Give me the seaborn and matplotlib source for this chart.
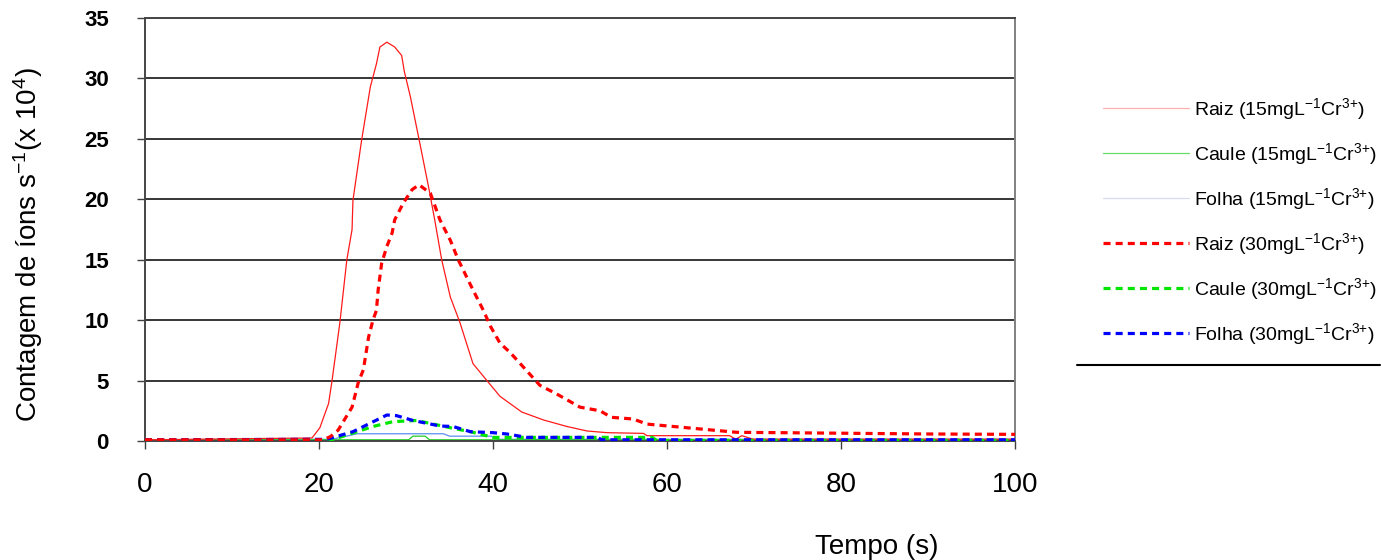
import matplotlib
matplotlib.use("Agg")
import matplotlib.pyplot as plt
from matplotlib.lines import Line2D
import seaborn as sns
import pandas as pd

# ---------------- data ----------------
raiz15_t = [0, 19.2, 20.1, 21.1, 21.5, 22.4, 23.2, 23.8, 23.9, 24.9, 25.9, 26.6, 27.0, 27.8,
            28.7, 29.5, 29.8, 30.5, 31.6, 32.6, 33.3, 34.1, 35.1, 36.2, 37.7, 39.3, 40.8, 43.3,
            45.8, 48.5, 50.8, 53.1, 57.3, 57.7, 67.2, 67.9, 68.6, 69.9, 100]
raiz15_v = [0.1, 0.25, 1.1, 3.1, 5.0, 9.8, 15.0, 17.5, 19.9, 24.9, 29.3, 31.2, 32.6, 33.0,
            32.6, 31.9, 30.6, 28.5, 24.6, 21.0, 18.3, 15.0, 11.9, 9.8, 6.4, 5.0, 3.7, 2.4,
            1.74, 1.2, 0.83, 0.69, 0.63, 0.44, 0.44, 0.15, 0.44, 0.15, 0.15]

caule15_t = [0, 30.3, 30.8, 32.2, 32.7, 100]
caule15_v = [0.1, 0.1, 0.4, 0.4, 0.1, 0.1]

folha15_t = [0, 21.5, 24.4, 34.3, 35.0, 39.8, 40.5, 100]
folha15_v = [0.1, 0.14, 0.6, 0.6, 0.4, 0.4, 0.14, 0.14]

raiz30_t = [0, 20.5, 21.3, 22.2, 23.8, 24.5, 25.1, 25.7, 26.2, 26.6, 26.8, 27.2, 27.8, 28.4,
            28.7, 29.7, 30.7, 31.5, 32.8, 33.9, 35.1, 36.0, 37.7, 38.9, 39.7, 40.8, 42.0,
            45.4, 47.3, 50.0, 52.3, 53.6, 56.1, 57.7, 63.0, 68.0, 90.2, 100]
raiz30_v = [0.1, 0.1, 0.36, 0.9, 2.8, 4.8, 5.9, 8.6, 10.0, 10.8, 12.5, 14.7, 16.1, 17.2,
            18.3, 19.7, 20.8, 21.2, 20.5, 18.3, 16.6, 15.0, 12.5, 10.8, 9.5, 8.1, 7.3,
            4.6, 3.9, 2.8, 2.5, 1.96, 1.82, 1.4, 1.05, 0.72, 0.58, 0.55]

caule30_t = [0, 21.5, 26.2, 28.5, 31.2, 35.4, 37.4, 40.0, 58.3, 58.8, 100]
caule30_v = [0.05, 0.1, 1.2, 1.6, 1.7, 1.05, 0.77, 0.3, 0.3, 0.05, 0.05]

folha30_t = [0, 20.9, 23.9, 27.8, 28.9, 30.8, 33.9, 35.4, 37.4, 40.0, 41.6, 43.9, 52.0, 52.5, 100]
folha30_v = [0.1, 0.14, 0.77, 2.15, 2.1, 1.7, 1.24, 1.2, 0.77, 0.69, 0.58, 0.3, 0.3, 0.1, 0.1]

labels = [r"Raiz (15mgL$^{-1}$Cr$^{3{+}}$)",
          r"Caule (15mgL$^{-1}$Cr$^{3{+}}$)",
          r"Folha (15mgL$^{-1}$Cr$^{3{+}}$)",
          r"Raiz (30mgL$^{-1}$Cr$^{3{+}}$)",
          r"Caule (30mgL$^{-1}$Cr$^{3{+}}$)",
          r"Folha (30mgL$^{-1}$Cr$^{3{+}}$)"]
y_ticks = [0, 5, 10, 15, 20, 25, 30, 35]
x_ticks = [0, 20, 40, 60, 80, 100]
x_label = "Tempo (s)"
y_label = r"Contagem de íons s$^{-1}$(x 10$^{4}$)"

# ---------------- style ----------------
sns.set_theme(style="white")
plt.rcParams["font.family"] = ["Liberation Sans", "DejaVu Sans"]
plt.rcParams["mathtext.fontset"] = "custom"
plt.rcParams["mathtext.rm"] = "Liberation Sans"
plt.rcParams["mathtext.it"] = "Liberation Sans:italic"
plt.rcParams["mathtext.bf"] = "Liberation Sans:bold"
plt.rcParams["mathtext.default"] = "regular"
for k in ["text.color", "axes.labelcolor", "xtick.color", "ytick.color"]:
    plt.rcParams[k] = "black"

fig = plt.figure(figsize=(13.81, 5.60), dpi=100)
ax = fig.add_axes([145 / 1381, 1 - 441 / 560, 870 / 1381, 423 / 560])

thin = 0.9
thick = 2.3
dash = (0, (2.2, 1.6))

series = [
    (folha15_t, folha15_v, "#5b8ff0", thin, "-", 2),
    (caule15_t, caule15_v, "#22cc22", thin, "-", 2),
    (raiz15_t, raiz15_v, "#ff1a1a", thin, "-", 3),
    (caule30_t, caule30_v, "#00e600", thick, dash, 4),
    (folha30_t, folha30_v, "#0000ff", thick, dash, 5),
    (raiz30_t, raiz30_v, "#ff0000", thick, dash, 6),
]
for t, v, c, lw, ls, z in series:
    df = pd.DataFrame({"t": t, "v": v})
    sns.lineplot(data=df, x="t", y="v", ax=ax, color=c, linewidth=lw,
                 linestyle=ls, estimator=None, sort=False, zorder=z)

ax.set_xlim(0, 100)
ax.set_ylim(0, 35)
ax.set_xticks(x_ticks)
ax.set_yticks(y_ticks)
ax.set_yticklabels([str(v) for v in y_ticks], fontsize=16, fontweight="bold")
ax.set_xticklabels([str(v) for v in x_ticks], fontsize=20)
ax.tick_params(axis="y", direction="out", length=6, width=1, color="#404040",
               pad=20, left=True)
ax.tick_params(axis="x", direction="out", length=6, width=1, color="#404040",
               pad=16, bottom=True)
ax.yaxis.grid(True, color="black", linewidth=1.1)
ax.xaxis.grid(False)
ax.set_axisbelow(True)

for side in ["left", "bottom", "top"]:
    ax.spines[side].set_color("#454545")
    ax.spines[side].set_linewidth(1.4)
ax.spines["right"].set_color("#808080")
ax.spines["right"].set_linewidth(1.4)

ax.set_xlabel(x_label, fontsize=20)
ax.xaxis.set_label_coords((877 - 145) / 870, (441 - 547) / 423)
ax.xaxis.label.set_va("center")
ax.set_ylabel(y_label, fontsize=20)
ax.yaxis.set_label_coords((28 - 145) / 870, (441 - 245) / 423)
ax.yaxis.label.set_va("center")

# legend
leg_colors = ["#ffb0b0", "#66dd66", "#d8dcf0", "#ff0000", "#00e600", "#0000ff"]
leg_lw = [thin, thin, thin, thick, thick, thick]
leg_ls = ["-", "-", "-", dash, dash, dash]
handles = [Line2D([0], [0], color=c, linewidth=w, linestyle=s)
           for c, w, s in zip(leg_colors, leg_lw, leg_ls)]
fig.legend(handles, labels, loc="upper left",
           bbox_to_anchor=(1103 / 1381, 1 - 96 / 560),
           frameon=False, fontsize=14, handlelength=4.4, handletextpad=0.3,
           labelspacing=0.98, borderpad=0, borderaxespad=0)

fig.add_artist(Line2D([1077 / 1381, 1380 / 1381], [1 - 365 / 560, 1 - 365 / 560],
                      transform=fig.transFigure, color="black", linewidth=1.5))

fig.savefig("out.png", dpi=100)
